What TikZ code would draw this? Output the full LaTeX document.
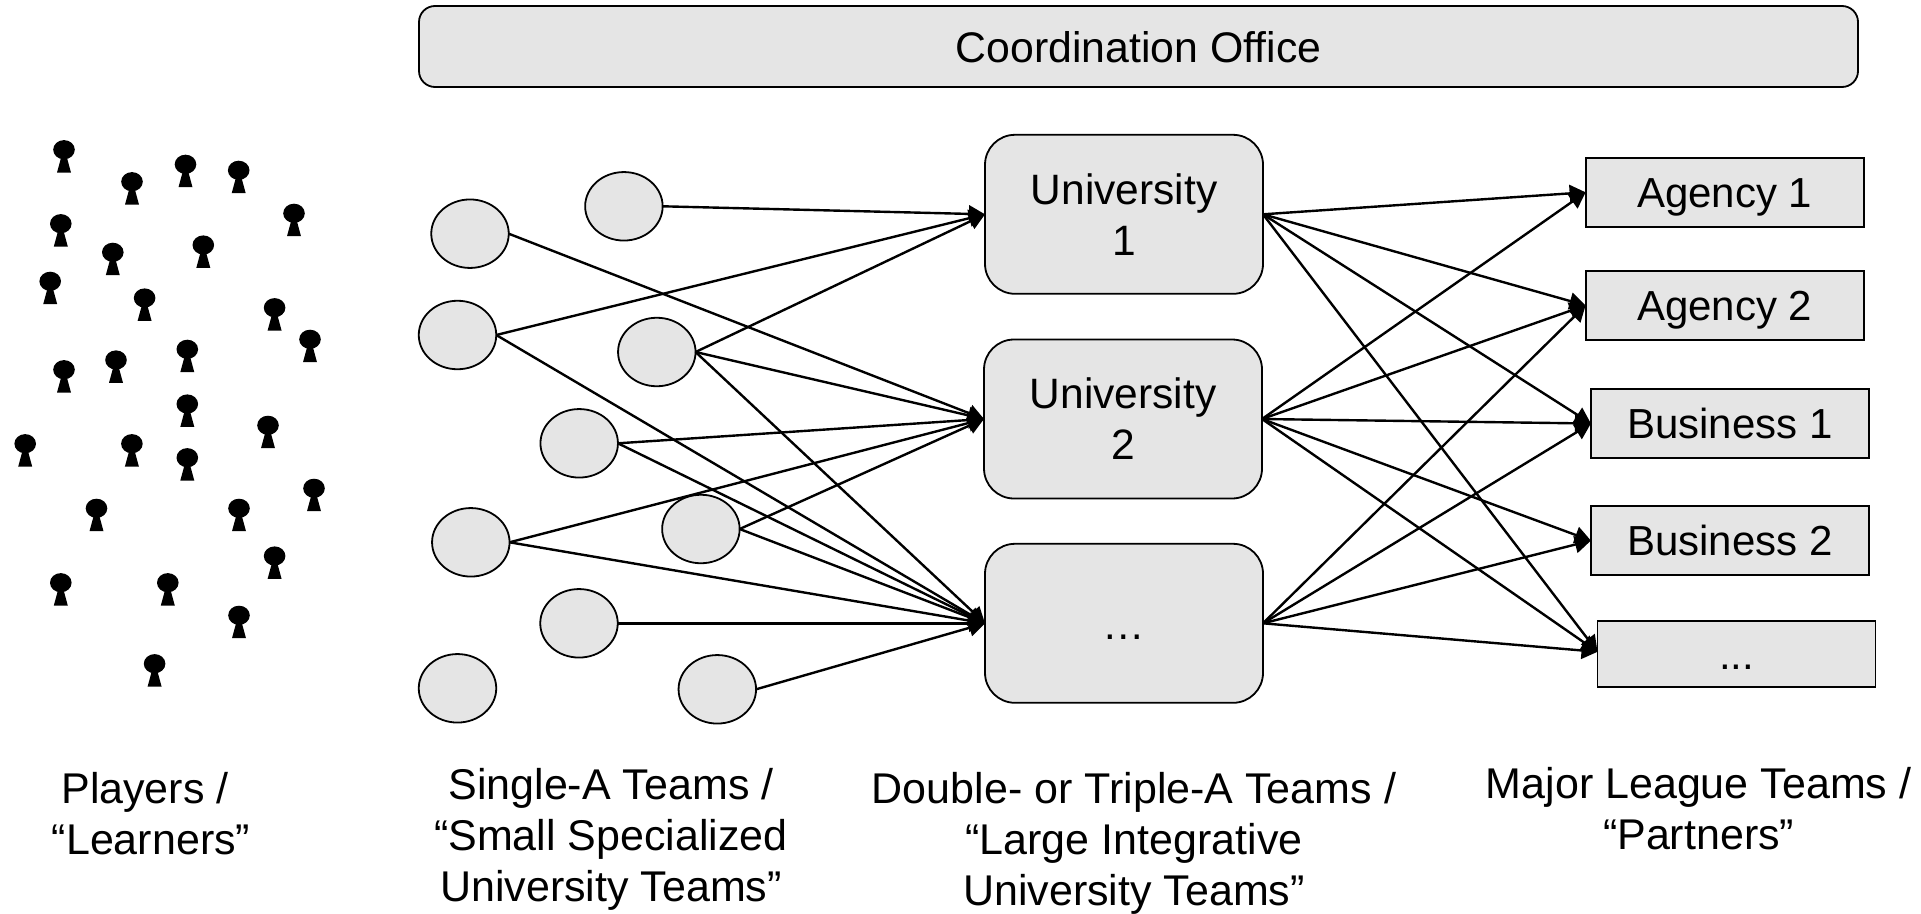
\documentclass[tikz,border=0pt]{standalone}
\usepackage{fontspec}
\setmainfont{Liberation Sans}
\usetikzlibrary{arrows.meta,shapes.geometric}
\definecolor{boxgray}{HTML}{E5E5E5}
\tikzset{
  x=1pt,y=-1pt,
  boxbase/.style={draw=black,fill=boxgray,line width=1.8pt,inner sep=0pt,outer sep=0pt},
  office/.style={boxbase,rounded corners=16pt,minimum width=1439pt,minimum height=81pt,text height=33.2pt,text depth=1.6pt,font=\fontsize{42.8}{50}\selectfont},
  uni/.style={boxbase,align=center,rounded corners=30pt,minimum width=278pt,minimum height=159pt,font=\fontsize{42.5}{51}\selectfont},
  unidots/.style={boxbase,rounded corners=30pt,minimum width=278pt,minimum height=159pt,text height=34pt,text depth=2pt,font=\fontsize{42.5}{51}\selectfont},
  partner/.style={boxbase,minimum width=278pt,minimum height=69pt,text height=32pt,text depth=2pt,font=\fontsize{42}{50}\selectfont},
  team/.style={boxbase,ellipse,minimum width=77.5pt,minimum height=68.5pt},
  caption/.style={inner sep=0pt,outer sep=0pt,align=center,font=\fontsize{43}{51}\selectfont},
  link/.style={line width=2.4pt,-{Triangle[length=16pt,width=17pt]}},
  player/.pic={
    \fill[black] (0,0) ellipse [x radius=10.8,y radius=9.6];
    \fill[black] (-2.4,6) -- (2.4,6) -- (7,22.9) -- (-7,22.9) -- cycle;
  }
}
\begin{document}
\begin{tikzpicture}
\useasboundingbox (0,0) rectangle (1921,913);
\fill[white] (0,0) rectangle (1921,913);

% players
\foreach \px/\py in {64/149.7,132/181.7,185.5/164.3,238.7/170.3,294/213.3,60.8/223.7,112.8/252.3,203.3/245,
  50.2/281.3,144.6/298,274.6/307.7,310/339.3,64/369.7,116/360,187.3/349.3,187.3/404,
  268/425.3,25.2/443.7,131.9/443.7,187.3/457.7,314/488.3,96.5/508.3,239/508.3,274.6/556,
  60.8/582.7,167.8/582.7,239/615.3,154.6/663.7}
  \pic at (\px,\py) {player};

% office
\node[office] (office) at (1138.5,46.5) {Coordination Office};

% small teams
\node[team] (a) at (623.9,206.3) {};
\node[team] (b) at (470,233.7) {};
\node[team] (c) at (457.5,335) {};
\node[team] (d) at (656.8,352) {};
\node[team] (e) at (579.2,443.3) {};
\node[team] (f) at (470.8,542.3) {};
\node[team] (g) at (700.9,529) {};
\node[team] (h) at (579,623.3) {};
\node[team] (i) at (457.5,688.3) {};
\node[team] (j) at (717.3,689.3) {};

% universities
\node[uni] (u1) at (1124,214.3) {\rule{0pt}{0pt}\raisebox{-1.5pt}{University}\\\raisebox{-1.5pt}{1}};
\node[uni] (u2) at (1123,419) {\raisebox{-1.5pt}{University}\\\raisebox{-1.5pt}{2}};
\node[unidots] (u3) at (1124,623.3) {…};

% partners
\node[partner] (ag1) at (1724.6,192.3) {Agency 1};
\node[partner] (ag2) at (1724.6,305.4) {Agency 2};
\node[partner] (bu1) at (1729.9,423.5) {Business 1};
\node[partner] (bu2) at (1729.9,540.6) {Business 2};
\node[partner,minimum height=66pt] (more) at (1736.5,654) {...};
\coordinate (morein) at (1597.5,651.8);

% team to university
\draw[link] (a.east) -- (u1.west);
\draw[link] (c.east) -- (u1.west);
\draw[link] (d.east) -- (u1.west);
\draw[link] (b.east) -- (u2.west);
\draw[link] (d.east) -- (u2.west);
\draw[link] (e.east) -- (u2.west);
\draw[link] (f.east) -- (u2.west);
\draw[link] (g.east) -- (u2.west);
\draw[link] (c.east) -- (u3.west);
\draw[link] (d.east) -- (u3.west);
\draw[link] (e.east) -- (u3.west);
\draw[link] (f.east) -- (u3.west);
\draw[link] (g.east) -- (u3.west);
\draw[link] (h.east) -- (u3.west);
\draw[link] (j.east) -- (u3.west);

% university to partner
\draw[link] (u1.east) -- (ag1.west);
\draw[link] (u1.east) -- (ag2.west);
\draw[link] (u1.east) -- (bu1.west);
\draw[link] (u1.east) -- (morein);
\draw[link] (u2.east) -- (ag1.west);
\draw[link] (u2.east) -- (ag2.west);
\draw[link] (u2.east) -- (bu1.west);
\draw[link] (u2.east) -- (bu2.west);
\draw[link] (u2.east) -- (morein);
\draw[link] (u3.east) -- (ag2.west);
\draw[link] (u3.east) -- (bu1.west);
\draw[link] (u3.east) -- (bu2.west);
\draw[link] (u3.east) -- (morein);

% captions
\node[caption] (cap1) at (148,813.5) {Players /\hspace*{6pt}\\\hspace*{6pt}“Learners”};
\node[caption] (cap2) at (611,839.5) {Single-A Teams /\\“Small Specialized\\University Teams”};
\node[caption] (cap3) at (1134,843.5) {Double- or Triple-A Teams /\\“Large Integrative\\University Teams”};
\node[caption] (cap4) at (1698.6,808.5) {Major League Teams /\\“Partners”};
\end{tikzpicture}
\end{document}
